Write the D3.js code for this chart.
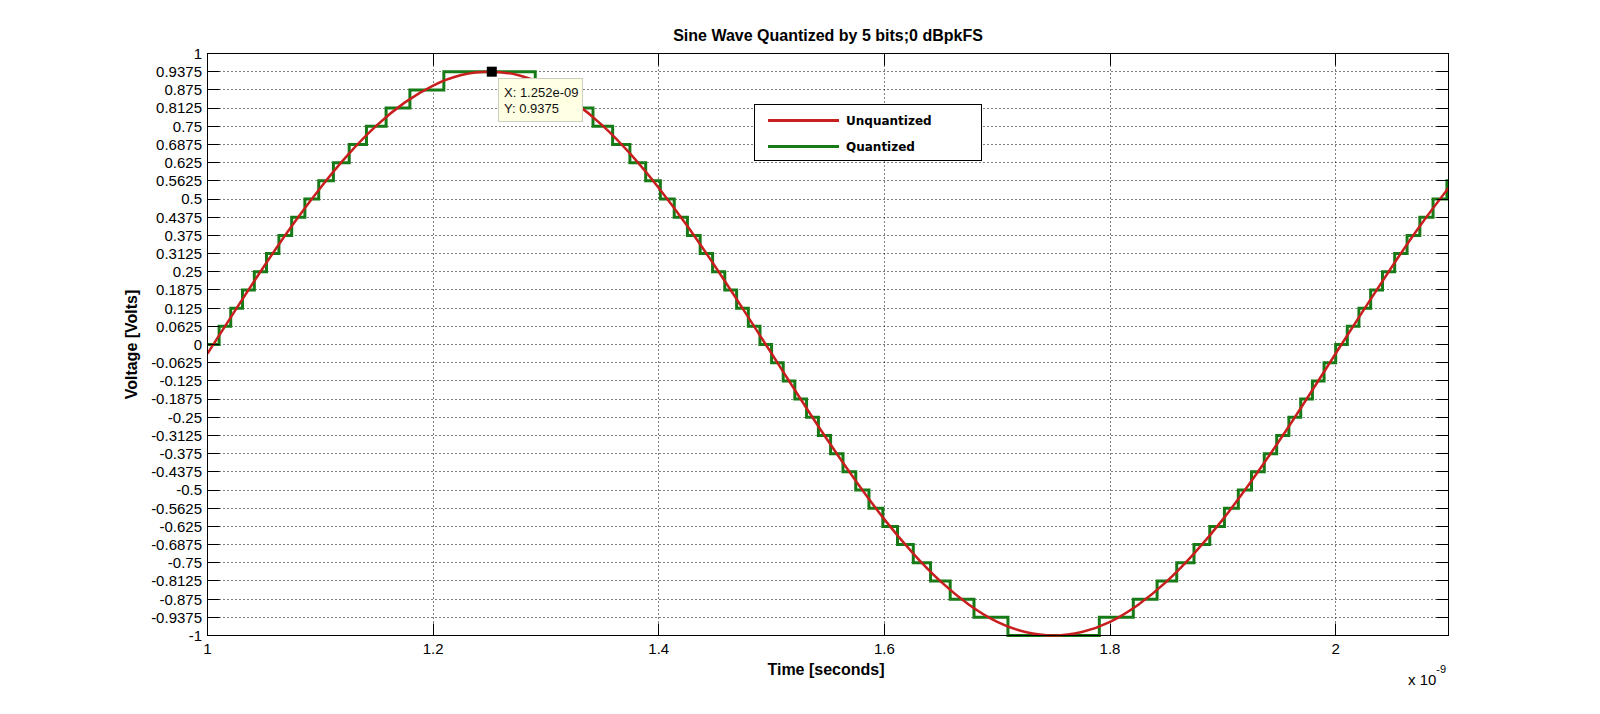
<!DOCTYPE html>
<html><head><meta charset="utf-8">
<script src="https://cdn.jsdelivr.net/npm/d3@7/dist/d3.min.js"></script>
<style>
html,body{margin:0;padding:0;background:#fff;}
svg{display:block;font-family:"Liberation Sans",Arial,Helvetica,sans-serif;}
</style></head><body>
<svg id="chart" width="1600" height="714"></svg>
<script>
// ---- data (time axis in units of 1e-9 s) ----
const sampleTimes = [1.000,1.025,1.050,1.075,1.100,1.125,1.150,1.175,1.200,1.225,1.250,1.275,1.300,1.325,1.350,1.375,1.400,1.425,1.450,1.475,1.500,1.525,1.550,1.575,1.600,1.625,1.650,1.675,1.700,1.725,1.750,1.775,1.800,1.825,1.850,1.875,1.900,1.925,1.950,1.975,2.000,2.025,2.050,2.075,2.100];
const unquantized = [-0.031,0.120,0.268,0.409,0.538,0.654,0.753,0.832,0.890,0.926,0.9375,0.926,0.890,0.832,0.753,0.654,0.538,0.409,0.268,0.120,-0.031,-0.183,-0.331,-0.471,-0.601,-0.716,-0.815,-0.894,-0.953,-0.988,-1.000,-0.988,-0.953,-0.894,-0.815,-0.716,-0.601,-0.471,-0.331,-0.183,-0.031,0.120,0.268,0.409,0.538];

const stepTimes = [1.0000,1.0103,1.0206,1.0310,1.0415,1.0523,1.0633,1.0746,1.0863,1.0986,1.1116,1.1256,1.1409,1.1583,1.1794,1.2095,
  1.2905,1.3206,1.3417,1.3591,1.3744,1.3884,1.4014,1.4137,1.4254,1.4367,1.4477,1.4585,1.4690,1.4794,1.4897,1.5000,
  1.5103,1.5206,1.5310,1.5415,1.5523,1.5633,1.5746,1.5863,1.5986,1.6116,1.6256,1.6409,1.6583,1.6794,1.7095,
  1.7905,1.8206,1.8417,1.8591,1.8744,1.8884,1.9014,1.9137,1.9254,1.9367,1.9477,1.9585,1.9690,1.9794,1.9897,2.0000,
  2.0103,2.0206,2.0310,2.0415,2.0523,2.0633,2.0746,2.0863,2.0986,2.1000];
const quantized = [0,0.0625,0.125,0.1875,0.25,0.3125,0.375,0.4375,0.5,0.5625,0.625,0.6875,0.75,0.8125,0.875,0.9375,
  0.875,0.8125,0.75,0.6875,0.625,0.5625,0.5,0.4375,0.375,0.3125,0.25,0.1875,0.125,0.0625,0,-0.0625,
  -0.125,-0.1875,-0.25,-0.3125,-0.375,-0.4375,-0.5,-0.5625,-0.625,-0.6875,-0.75,-0.8125,-0.875,-0.9375,-1,
  -0.9375,-0.875,-0.8125,-0.75,-0.6875,-0.625,-0.5625,-0.5,-0.4375,-0.375,-0.3125,-0.25,-0.1875,-0.125,-0.0625,0,
  0.0625,0.125,0.1875,0.25,0.3125,0.375,0.4375,0.5,0.5625,0.5625];

const xTicks = [1, 1.2, 1.4, 1.6, 1.8, 2];
const xTickLabels = ["1", "1.2", "1.4", "1.6", "1.8", "2"];
const yTicks = [1,0.9375,0.875,0.8125,0.75,0.6875,0.625,0.5625,0.5,0.4375,0.375,0.3125,0.25,0.1875,0.125,0.0625,0,
  -0.0625,-0.125,-0.1875,-0.25,-0.3125,-0.375,-0.4375,-0.5,-0.5625,-0.625,-0.6875,-0.75,-0.8125,-0.875,-0.9375,-1];
const seriesNames = ["Unquantized", "Quantized"];
const seriesColors = ["#c81e1e", "#167a16"];
const datatipPoint = {x: 1.252, y: 0.9375};
const datatipLines = ["X: 1.252e-09", "Y: 0.9375"];
const titleText = "Sine Wave Quantized by 5 bits;0 dBpkFS";
const xLabel = "Time [seconds]";
const yLabel = "Voltage [Volts]";

// ---- layout ----
const L = 207.5, R = 1448.5, T = 53.5, B = 635.5;
const svg = d3.select("#chart");
const x = d3.scaleLinear().domain([1, 2.1]).range([L, R]);
const y = d3.scaleLinear().domain([-1, 1]).range([B, T]);
const snap = v => Math.round(v - 0.5) + 0.5;

svg.append("defs").append("clipPath").attr("id", "clip")
  .append("rect").attr("x", L).attr("y", T - 2).attr("width", R - L).attr("height", B - T + 4);

// grid
const grid = svg.append("g").attr("stroke", "#000").attr("stroke-width", 1).attr("stroke-dasharray", "1,3");
yTicks.filter(v => v > -1 && v < 1).forEach(v => {
  grid.append("line").attr("x1", L).attr("x2", R).attr("y1", snap(y(v))).attr("y2", snap(y(v)));
});
xTicks.filter(v => v > 1).forEach(v => {
  grid.append("line").attr("y1", T).attr("y2", B).attr("x1", snap(x(v))).attr("x2", snap(x(v)));
});

// series
const plot = svg.append("g").attr("clip-path", "url(#clip)");
const qLine = d3.line().x((d, i) => x(stepTimes[i])).y(d => y(d)).curve(d3.curveStepAfter);
plot.append("path").datum(quantized).attr("d", qLine)
  .attr("fill", "none").attr("stroke", seriesColors[1]).attr("stroke-width", 3);
const uLine = d3.line().x((d, i) => x(sampleTimes[i])).y(d => y(d)).curve(d3.curveNatural);
plot.append("path").datum(unquantized).attr("d", uLine)
  .attr("fill", "none").attr("stroke", seriesColors[0]).attr("stroke-width", 2.5);

// axes box + ticks
const axes = svg.append("g").attr("stroke", "#000").attr("stroke-width", 1);
axes.append("rect").attr("x", L).attr("y", T).attr("width", R - L).attr("height", B - T).attr("fill", "none");
const tl = 12;
yTicks.forEach(v => {
  const yy = snap(y(v));
  axes.append("line").attr("x1", L).attr("x2", L + tl).attr("y1", yy).attr("y2", yy);
  axes.append("line").attr("x1", R).attr("x2", R - tl).attr("y1", yy).attr("y2", yy);
});
xTicks.forEach(v => {
  const xx = snap(x(v));
  axes.append("line").attr("x1", xx).attr("x2", xx).attr("y1", B).attr("y2", B - tl);
  axes.append("line").attr("x1", xx).attr("x2", xx).attr("y1", T).attr("y2", T + tl);
});

// tick labels
const tickFont = 15;
svg.append("g").selectAll("text").data(yTicks).join("text")
  .attr("x", 202).attr("y", d => y(d)).attr("dy", "0.36em")
  .attr("text-anchor", "end").attr("font-size", tickFont).attr("fill", "#000")
  .text(d => String(d));
svg.append("g").selectAll("text").data(xTicks).join("text")
  .attr("x", d => x(d)).attr("y", 654)
  .attr("text-anchor", "middle").attr("font-size", tickFont).attr("fill", "#000")
  .text((d, i) => xTickLabels[i]);

// exponent
const ex = svg.append("text").attr("x", 1408).attr("y", 685).attr("font-size", 15).attr("fill", "#000");
ex.append("tspan").text("x 10");
ex.append("tspan").attr("font-size", 11).attr("dy", -12).text("-9");

// title & labels
svg.append("text").attr("x", (L + R) / 2).attr("y", 41).attr("text-anchor", "middle")
  .attr("font-size", 16).attr("font-weight", "bold").text(titleText);
svg.append("text").attr("x", 826).attr("y", 675).attr("text-anchor", "middle")
  .attr("font-size", 16).attr("font-weight", "bold").text(xLabel);
svg.append("text").attr("transform", `translate(137,${(T + B) / 2}) rotate(-90)`).attr("text-anchor", "middle")
  .attr("font-size", 16).attr("font-weight", "bold").text(yLabel);

// legend
const lg = svg.append("g");
lg.append("rect").attr("x", 754.5).attr("y", 104.5).attr("width", 227).attr("height", 56)
  .attr("fill", "#fff").attr("stroke", "#000").attr("stroke-width", 1);
seriesNames.forEach((n, i) => {
  const yy = 120.5 + i * 26;
  lg.append("line").attr("x1", 768).attr("x2", 839).attr("y1", yy).attr("y2", yy)
    .attr("stroke", seriesColors[i]).attr("stroke-width", 3);
  lg.append("text").attr("x", 846).attr("y", yy).attr("dy", "0.36em")
    .attr("font-family", "'DejaVu Sans', Verdana, sans-serif").attr("font-weight", "bold")
    .attr("font-size", 12).attr("fill", "#000").text(n);
});

// datatip
const dx = x(datatipPoint.x), dy = y(datatipPoint.y);
svg.append("rect").attr("x", dx - 5).attr("y", dy - 5).attr("width", 10).attr("height", 10).attr("fill", "#000");
const tip = svg.append("g");
tip.append("rect").attr("x", 498.5).attr("y", 78.5).attr("width", 84).attr("height", 43)
  .attr("fill", "#ffffe3").attr("stroke", "#cfcfbf").attr("stroke-width", 1);
datatipLines.forEach((s, i) => {
  tip.append("text").attr("x", 504).attr("y", 97 + i * 16).attr("font-size", 13).attr("fill", "#111").text(s);
});
</script>
</body></html>
